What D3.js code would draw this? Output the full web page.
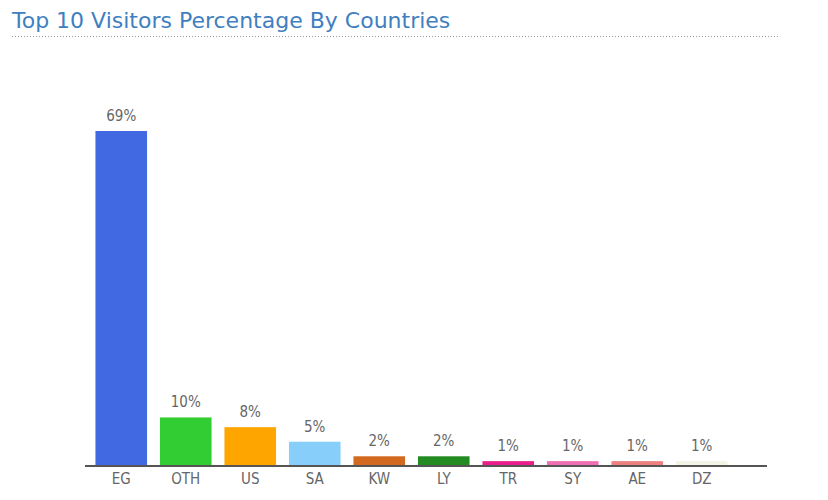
<!DOCTYPE html><html><head><script src="https://d3js.org/d3.v7.min.js"></script>
<style>body{margin:0;background:#fff}</style></head><body><svg id="c" width="828" height="500"></svg>
<script>
const categories=["EG","OTH","US","SA","KW","LY","TR","SY","AE","DZ"];
const values=[69,10,8,5,2,2,1,1,1,1];
const labels=["69%","10%","8%","5%","2%","2%","1%","1%","1%","1%"];
const colors=["#4169E1","#32CD32","#FFA500","#87CEFA","#D2691E","#228B22","#E91E8C","#F06EB4","#EE7F7F","#F2F5E4"];
const svg=d3.select("#c");
svg.append("text").attr("x",12).attr("y",28).attr("font-family","Verdana, DejaVu Sans, sans-serif").attr("font-size",22).attr("fill","#3F7FBF").text("Top 10 Visitors Percentage By Countries");
svg.append("line").attr("x1",12).attr("x2",778).attr("y1",36.5).attr("y2",36.5).attr("stroke","#999").attr("stroke-dasharray","1,2");
const x=d3.scaleBand().domain(categories).range([89,734]).paddingInner(0.2).paddingOuter(0.1);
const y=d3.scaleLinear().domain([0,69]).range([466,131]);
svg.selectAll("rect").data(values).join("rect").attr("x",(d,i)=>x(categories[i])).attr("width",x.bandwidth()).attr("y",d=>y(d)).attr("height",d=>466-y(d)).attr("fill",(d,i)=>colors[i]);
svg.selectAll(".v").data(values).join("text").attr("x",(d,i)=>x(categories[i])+x.bandwidth()/2).attr("y",d=>y(d)-10).attr("text-anchor","middle").attr("font-family","DejaVu Sans Condensed, sans-serif").attr("font-size",15).attr("fill","#666").text((d,i)=>labels[i]);
const ax=svg.append("g").attr("transform","translate(0,466)").call(d3.axisBottom(x).tickSize(0).tickPadding(7));
ax.select(".domain").remove();
ax.selectAll("text").attr("font-family","DejaVu Sans Condensed, sans-serif").attr("font-size",15).attr("fill","#666");
svg.append("line").attr("x1",85).attr("x2",767).attr("y1",466).attr("y2",466).attr("stroke","#555").attr("stroke-width",2);
</script></body></html>
